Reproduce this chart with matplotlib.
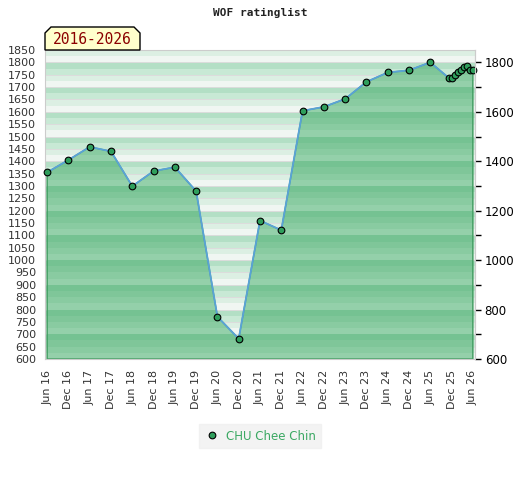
"""
WOF ratinglist chart for CHU Chee Chin, 2016-2026
"""
import matplotlib
matplotlib.use("Agg")
import matplotlib.pyplot as plt
from matplotlib.patches import Polygon
from matplotlib.lines import Line2D
import numpy as np

# Data: months since Jun 2016 and rating values
months = [0, 6, 12, 18, 24, 30, 36, 42, 48, 54, 60, 66, 72, 78, 84, 90, 96, 102, 108,
          113.3, 114.1, 115.1, 115.9, 116.7, 117.4, 118.3, 119.2, 120.0]
ratings = [1355, 1405, 1458, 1440, 1299, 1360, 1376, 1279, 771, 682, 1160, 1121,
           1604, 1620, 1652, 1721, 1759, 1768, 1800,
           1736, 1737, 1747, 1759, 1771, 1781, 1784, 1771, 1768]
tick_months = list(range(0, 121, 6))
tick_labels = ["Jun 16", "Dec 16", "Jun 17", "Dec 17", "Jun 18", "Dec 18", "Jun 19",
               "Dec 19", "Jun 20", "Dec 20", "Jun 21", "Dec 21", "Jun 22", "Dec 22",
               "Jun 23", "Dec 23", "Jun 24", "Dec 24", "Jun 25", "Dec 25", "Jun 26"]
player = "CHU Chee Chin"
period = "2016-2026"

y_min, y_max = 600, 1850
W, H = 520, 480

# stripe colours, from bottom of a 100-point band to its top
light_cols = ["#f0f6f2", "#dcefe3", "#c8e9d5", "#b3dfc5"]
dark_cols = ["#94d0aa", "#89cba1", "#7fc699", "#75c292"]

fig = plt.figure(figsize=(W / 100, H / 100), dpi=100)
ax = fig.add_axes([45 / W, 1 - 359 / H, 430 / W, 309 / H])
ax.set_xlim(-0.6, 120.6)
ax.set_ylim(y_min, y_max)

# area under the rating line
poly_x = months + [months[-1], months[0]]
poly_y = ratings + [y_min, y_min]
area = Polygon(np.column_stack([poly_x, poly_y]), closed=True, facecolor="none",
               edgecolor="#3e9c5e", linewidth=1.0, zorder=1.5)
ax.add_patch(area)

# striped background and striped fill
for v in range(y_min, y_max, 25):
    idx = (v % 100) // 25
    ax.axhspan(v, v + 25, color=light_cols[idx], lw=0, zorder=0)
    s = ax.axhspan(v, v + 25, color=dark_cols[idx], lw=0, zorder=1)
    s.set_clip_path(area)

for v in range(y_min, y_max + 1, 50):
    ax.axhline(v, color="#dcdcdc", lw=0.7, zorder=0.5)

ax.plot(months, ratings, color="#5aa2d8", lw=1.3, zorder=2)
ax.plot(months, ratings, linestyle="none", marker="o", markersize=4.8,
        markerfacecolor="#2f9e5c", markeredgecolor="black", markeredgewidth=0.8,
        zorder=3, clip_on=False)

ax.set_yticks(range(y_min, y_max + 1, 50))
ax.tick_params(axis="y", length=0, pad=6.5, labelsize=8, labelcolor="#333333")
ax.set_xticks(tick_months)
ax.set_xticklabels(tick_labels, rotation=90)
ax.tick_params(axis="x", length=0, pad=8, labelsize=8, labelcolor="#333333")
for sp in ax.spines.values():
    sp.set_color("#cccccc")

ax2 = ax.twinx()
ax2.set_ylim(y_min, y_max)
ax2.set_yticks(range(600, 1801, 200))
ax2.set_yticks(range(700, 1801, 200), minor=True)
ax2.tick_params(axis="y", which="both", length=4, width=1, color="black",
                pad=3, labelsize=8.5, labelcolor="black")
for name, sp in ax2.spines.items():
    sp.set_visible(name == "right")
ax2.spines["right"].set_color("#cccccc")

# title
fig.text(0.5, 1 - 13 / H, "WOF ratinglist", ha="center", va="center",
         family="DejaVu Sans Mono", fontweight="bold", fontsize=8, color="#222222")

# period box with cut top corners
bx0, bx1, by0, by1, c = 45, 140, 50, 27, 6
box = Polygon([[bx0 / W, 1 - by0 / H], [bx0 / W, 1 - (by1 + c) / H],
               [(bx0 + c) / W, 1 - by1 / H], [(bx1 - c) / W, 1 - by1 / H],
               [bx1 / W, 1 - (by1 + c) / H], [bx1 / W, 1 - by0 / H]],
              closed=True, transform=fig.transFigure, facecolor="#ffffcc",
              edgecolor="black", linewidth=1.0)
fig.patches.append(box)
fig.text((bx0 + bx1) / 2 / W, 1 - 40 / H, period, ha="center", va="center",
         family="DejaVu Sans Mono", fontsize=10.5, color="#8b0000")

# legend
handle = Line2D([], [], linestyle="none", marker="o", markersize=4.8,
                markerfacecolor="#2f9e5c", markeredgecolor="black", markeredgewidth=0.8)
leg = fig.legend([handle], [player], loc="center", bbox_to_anchor=(260 / W, 1 - 436 / H),
                 frameon=True, fancybox=False, facecolor="#f0f0f0", edgecolor="#f0f0f0",
                 fontsize=8.5, labelcolor="#3aa862", handletextpad=0.6,
                 handlelength=1.2, borderpad=0.5)

fig.savefig("out.png", dpi=100)
